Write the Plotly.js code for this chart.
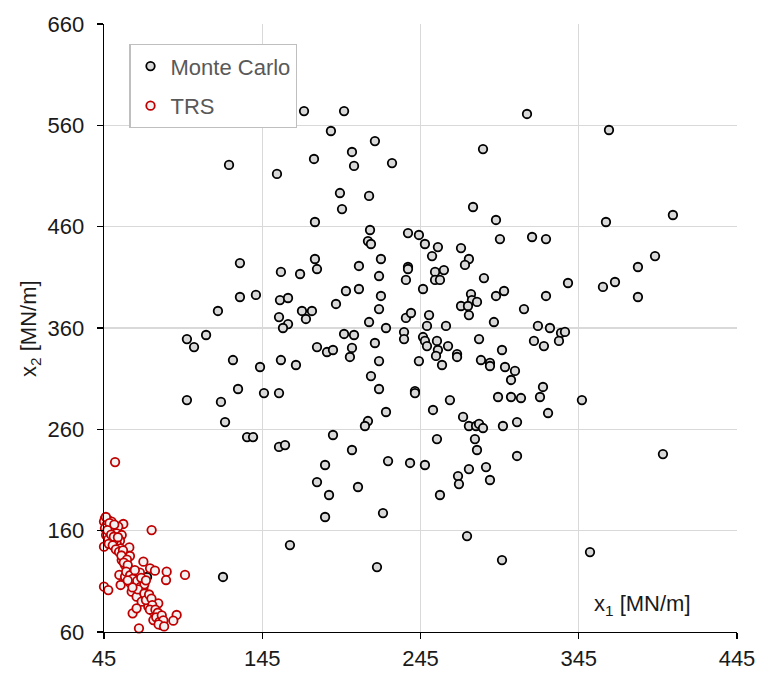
<!DOCTYPE html>
<html>
<head>
<meta charset="utf-8">
<script src="https://cdn.plot.ly/plotly-3.0.1.min.js"></script>
<style>html,body{margin:0;padding:0;background:#fff;}#chart{width:763px;height:674px;}</style>
</head>
<body>
<div id="chart"></div>
<script>
// Monte Carlo samples (x1, x2) in MN/m
var mcX = [171.4,196.7,188.4,201.7,124.0,177.7,203.0,154.3,194.1,212.5,195.4,178.3,213.1,211.8,213.7,178.3,130.9,206.1,312.3,216.2,
284.5,227.0,278.2,292.7,237.1,244.0,295.2,315.5,324.3,247.8,256.0,270.6,252.3,275.6,220.0,237.1,273.1,364.1,404.5,362.2,
393.2,382.4,156.8,168.9,179.6,130.9,141.0,156.2,161.3,197.9,206.1,191.6,117.0,170.1,176.4,155.6,172.6,161.3,158.1,212.5,
97.4,109.5,101.9,196.7,203.0,179.6,185.9,189.7,201.7,200.4,126.5,143.6,156.8,166.3,213.7,129.7,146.1,155.6,97.4,118.9,
121.5,211.8,209.9,189.7,135.4,139.2,218.8,237.1,235.8,254.2,259.8,254.2,257.3,285.1,246.6,220.0,218.8,276.9,277.5,280.7,
270.6,275.0,275.6,292.7,297.8,324.3,338.2,310.4,235.8,239.0,250.4,223.2,249.1,261.1,291.4,319.2,326.8,333.8,336.3,332.5,
316.7,323.0,234.6,234.6,216.2,246.6,247.8,249.1,255.4,262.4,256.0,254.8,268.1,268.1,282.0,296.5,258.6,218.8,244.0,283.2,
288.9,288.9,298.4,304.7,302.2,218.8,241.5,241.5,263.6,294.0,302.2,308.5,322.4,320.5,223.2,252.9,271.9,325.6,306.0,275.6,
280.1,282.0,284.5,297.1,360.3,367.9,382.4,347.0,155.6,159.4,201.7,184.7,179.6,205.5,187.2,184.7,162.5,120.2,255.4,279.4,
280.7,306.0,224.5,238.4,247.8,275.6,286.4,268.7,269.3,288.9,257.3,221.3,274.4,296.5,217.5,398.2,352.1,72.2];
var mcY = [574.1,574.1,554.4,533.7,520.9,526.8,519.9,512.0,493.2,490.3,477.4,464.6,456.7,445.8,442.9,428.1,424.1,421.2,571.2,544.5,
536.6,522.8,479.4,466.6,453.7,451.8,447.8,449.8,447.8,442.9,439.9,438.9,431.0,428.1,428.1,420.2,422.2,555.4,471.5,464.6,
431.0,420.2,415.3,413.3,418.2,390.6,392.6,387.6,389.6,396.5,398.5,383.7,376.8,376.8,376.8,370.8,368.9,363.9,360.0,365.9,
349.1,353.1,341.2,354.1,353.1,341.2,336.3,338.3,340.3,331.4,328.4,321.5,328.4,323.5,312.6,299.8,295.8,295.8,288.9,287.0,
267.2,268.2,263.3,254.4,252.4,252.4,411.3,418.2,407.4,415.3,417.2,407.4,407.4,409.3,398.5,391.6,378.7,393.5,387.6,385.7,
381.7,381.7,372.8,391.6,396.5,391.6,404.4,378.7,369.9,374.8,372.8,360.0,362.0,362.0,365.9,362.0,360.0,355.1,356.1,347.2,
347.2,342.2,356.0,349.1,345.2,351.1,347.2,342.2,347.2,342.2,338.3,332.4,334.3,331.4,349.1,338.3,323.5,327.4,327.4,328.4,
325.5,322.5,321.5,317.6,308.7,299.8,297.8,295.8,288.9,291.9,291.9,290.9,301.8,291.9,277.1,279.1,272.2,276.1,267.2,263.3,
263.3,265.3,261.3,263.3,400.5,405.4,390.6,288.9,242.6,244.5,239.6,224.8,208.0,203.1,195.2,173.5,145.8,114.3,250.4,250.4,
239.6,233.7,228.7,226.8,224.8,220.8,222.8,213.9,206.0,210.0,195.2,177.4,154.7,131.0,124.1,235.6,138.9,114.3];

// TRS samples (x1, x2) in MN/m
var trsX = [52.0,45.6,47.7,45.0,49.8,46.7,57.2,45.6,50.9,54.0,48.8,53.0,46.3,56.2,52.0,47.7,55.1,45.0,53.0,50.9,
75.1,55.5,61.0,57.2,58.9,56.2,61.4,58.3,60.4,62.5,69.9,74.1,77.2,54.7,58.3,63.5,65.6,67.7,84.6,84.2,
96.2,55.5,45.0,47.7,61.4,64.6,67.7,62.5,66.7,69.9,72.0,65.6,68.8,74.1,73.0,77.2,79.3,76.2,78.3,80.4,
76.2,81.4,63.1,65.6,90.9,88.8,67.1,46.2,48.5,51.5,47.2,49.5,51.2,53.8,48.0,50.5,52.5,54.5,57.0,56.0,
59.5,57.5,60.0,59.0,61.5,63.0,64.5,66.0,68.0,70.5,66.5,70.5,71.5,73.5,75.0,75.5,74.0,77.5,79.0,78.0,
80.0,81.5,82.5,79.5,83.0,68.5,71.5,63.0,60.0];
var trsY = [227.7,172.0,170.5,169.0,169.0,165.6,166.6,162.3,162.3,164.0,159.0,157.4,155.7,155.7,152.4,151.4,150.1,144.2,147.5,149.1,
160.6,142.6,143.5,137.6,133.7,131.0,135.0,126.1,122.8,120.5,129.4,122.8,120.5,116.3,114.6,117.9,114.6,118.5,119.5,111.3,
116.3,106.4,104.7,101.4,108.7,106.4,109.7,99.8,98.2,103.1,94.9,94.9,89.9,89.9,85.0,85.0,88.3,80.1,76.8,73.5,
71.8,66.9,78.4,83.4,76.8,71.2,63.6,173.5,167.5,166.0,160.5,156.0,154.0,153.5,147.0,145.5,141.5,139.0,140.5,135.5,
131.5,128.5,126.0,119.5,116.0,112.5,121.0,110.5,104.5,107.0,102.0,98.0,91.5,97.0,93.0,86.5,82.0,82.0,79.0,74.5,
70.0,76.5,71.5,67.5,65.5,113.5,111.0,104.0,111.0];

var xTicks = [45,145,245,345,445];
var yTicks = [60,160,260,360,460,560,660];
var seriesNames = ['Monte Carlo','TRS'];

var FONT = 'Liberation Sans, Arial, sans-serif';
var FS = 22;

var traces = [
  {x: mcX, y: mcY, type: 'scatter', mode: 'markers', name: seriesNames[0], legendgroup: 'a', cliponaxis: false,
   marker: {symbol: 'circle', size: 8.5, color: '#d9d9d9', line: {color: '#000000', width: 1.8}}},
  {x: trsX, y: trsY, type: 'scatter', mode: 'markers', name: seriesNames[1], legendgroup: 'b', cliponaxis: false,
   marker: {symbol: 'circle', size: 8.5, color: '#f2f2f2', line: {color: '#c00000', width: 1.8}}}
];

var layout = {
  width: 763, height: 674,
  margin: {l: 104, r: 26, t: 24, b: 42, pad: 0},
  paper_bgcolor: '#ffffff', plot_bgcolor: '#ffffff',
  font: {family: FONT, color: '#1a1a1a', size: FS},
  showlegend: true,
  legend: {x: 0.04, y: 0.967, xanchor: 'left', yanchor: 'top', bgcolor: '#ffffff',
           bordercolor: '#bfbfbf', borderwidth: 1.2, font: {family: FONT, size: FS, color: '#595959'},
           traceorder: 'grouped', tracegroupgap: 8},
  xaxis: {range: [45, 445], tickvals: xTicks, ticktext: xTicks.map(String), showgrid: true, gridcolor: '#d9d9d9', gridwidth: 1.2,
          zeroline: false, showline: true, linecolor: '#000000', linewidth: 1.3, ticks: 'outside', ticklen: 6,
          tickcolor: '#000000', tickwidth: 1.3, tickfont: {family: FONT, size: FS, color: '#1a1a1a'}, ticklabelstandoff: 0},
  yaxis: {range: [60, 660], tickvals: yTicks, ticktext: yTicks.map(String), showgrid: true, gridcolor: '#d9d9d9', gridwidth: 1.2,
          zeroline: false, showline: true, linecolor: '#000000', linewidth: 1.3, ticks: 'outside', ticklen: 6,
          tickcolor: '#000000', tickwidth: 1.3, tickfont: {family: FONT, size: FS, color: '#1a1a1a'}, ticklabelstandoff: 8},
  annotations: [
    {text: 'x<sub>1</sub> [MN/m]', xref: 'paper', yref: 'paper', x: 0.8515, y: 0.0444, xanchor: 'center', yanchor: 'middle',
     showarrow: false, font: {family: FONT, size: FS, color: '#1a1a1a'}},
    {text: 'x<sub>2</sub> [MN/m]', xref: 'paper', yref: 'paper', x: -0.117, y: 0.5, xanchor: 'center', yanchor: 'middle',
     textangle: -90, showarrow: false, font: {family: FONT, size: FS, color: '#1a1a1a'}}
  ]
};

Plotly.newPlot('chart', traces, layout, {displayModeBar: false, staticPlot: true});
</script>
</body>
</html>
